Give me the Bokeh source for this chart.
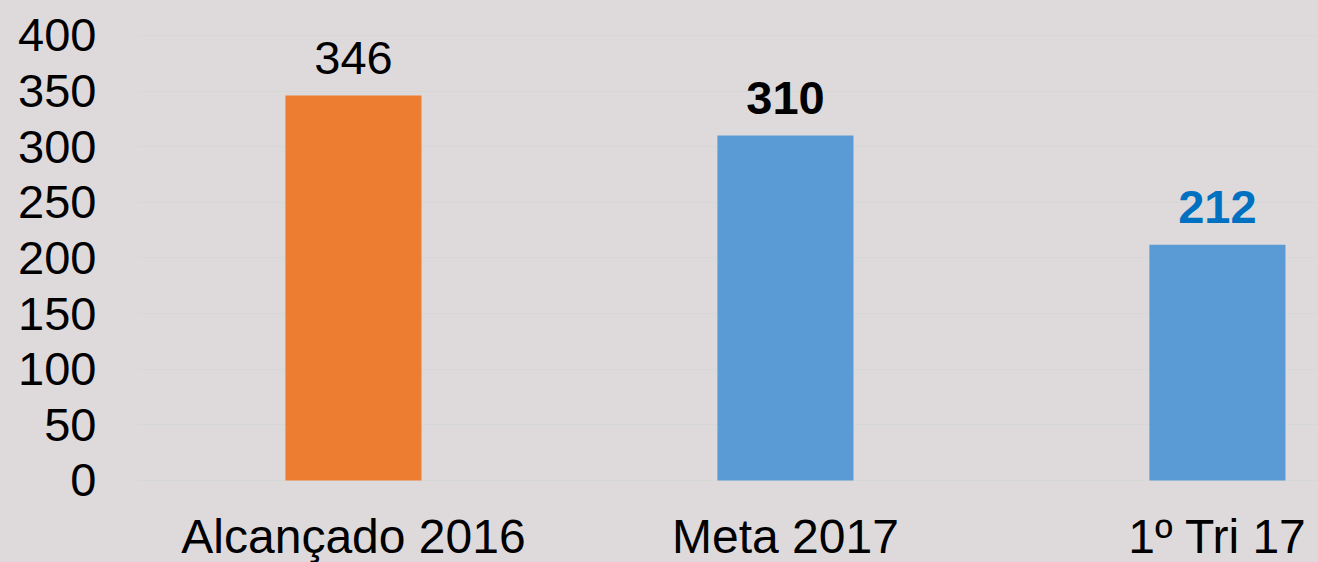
from bokeh.plotting import figure
from bokeh.models import ColumnDataSource, Range1d, FixedTicker
from bokeh.core.properties import value
from bokeh.embed import file_html
from bokeh.resources import INLINE

# ---- data ----
categories = ["Alcançado 2016", "Meta 2017", "1º Tri 17"]
values = [346, 310, 212]
bar_colors = ["#ED7D31", "#5B9BD5", "#5B9BD5"]
label_colors = ["#000000", "#000000", "#0070C0"]
label_styles = ["normal", "bold", "bold"]
y_ticks = [0, 50, 100, 150, 200, 250, 300, 350, 400]

# ---- style ----
BG = "#DEDADB"
GRID = "#D6D8D8"
FONT = "Liberation Sans"
LABEL_GAP = 34.2      # data units between bar top and value label centre
CAT_LABEL_Y = -50.3   # data position of category label centre

x = [i + 0.5 for i in range(len(categories))]
src = ColumnDataSource(dict(
    x=x,
    top=values,
    bar_color=bar_colors,
    label=[str(v) for v in values],
    label_y=[v + LABEL_GAP for v in values],
    label_color=label_colors,
    label_style=label_styles,
    cat=categories,
    cat_y=[CAT_LABEL_Y] * len(categories),
))

p = figure(width=1318, height=562, output_backend="svg", toolbar_location=None,
           x_range=Range1d(0, 2.734), y_range=Range1d(-73.71, 431.46),
           min_border_left=137, min_border_right=0, min_border_top=0, min_border_bottom=0)

# one continuous background (avoids a seam between frame and border fills)
p.styles = {"background-color": BG}
p.background_fill_alpha = 0
p.border_fill_alpha = 0
p.outline_line_color = None

p.vbar(x="x", top="top", bottom=0, width=0.315, source=src,
       fill_color="bar_color", line_color=None)

p.text(x="x", y="label_y", text="label", source=src,
       text_color="label_color", text_font_style="label_style",
       text_font=value(FONT), text_font_size="47px",
       text_align="center", text_baseline="middle")

p.text(x="x", y="cat_y", text="cat", source=src,
       text_color="#000000", text_font=value(FONT), text_font_size="48px",
       text_align="center", text_baseline="middle")

p.xaxis.visible = False
p.xgrid.visible = False

yax = p.yaxis[0]
yax.ticker = FixedTicker(ticks=y_ticks)
yax.axis_line_color = None
yax.major_tick_line_color = None
yax.minor_tick_line_color = None
yax.major_tick_out = 0
yax.major_tick_in = 0
yax.major_label_standoff = 41
yax.major_label_text_font = FONT
yax.major_label_text_font_size = "47px"
yax.major_label_text_color = "#000000"

p.ygrid.ticker = FixedTicker(ticks=y_ticks)
p.ygrid.grid_line_color = GRID
p.ygrid.grid_line_width = 1

open("out.html", "w").write(file_html(p, INLINE))
